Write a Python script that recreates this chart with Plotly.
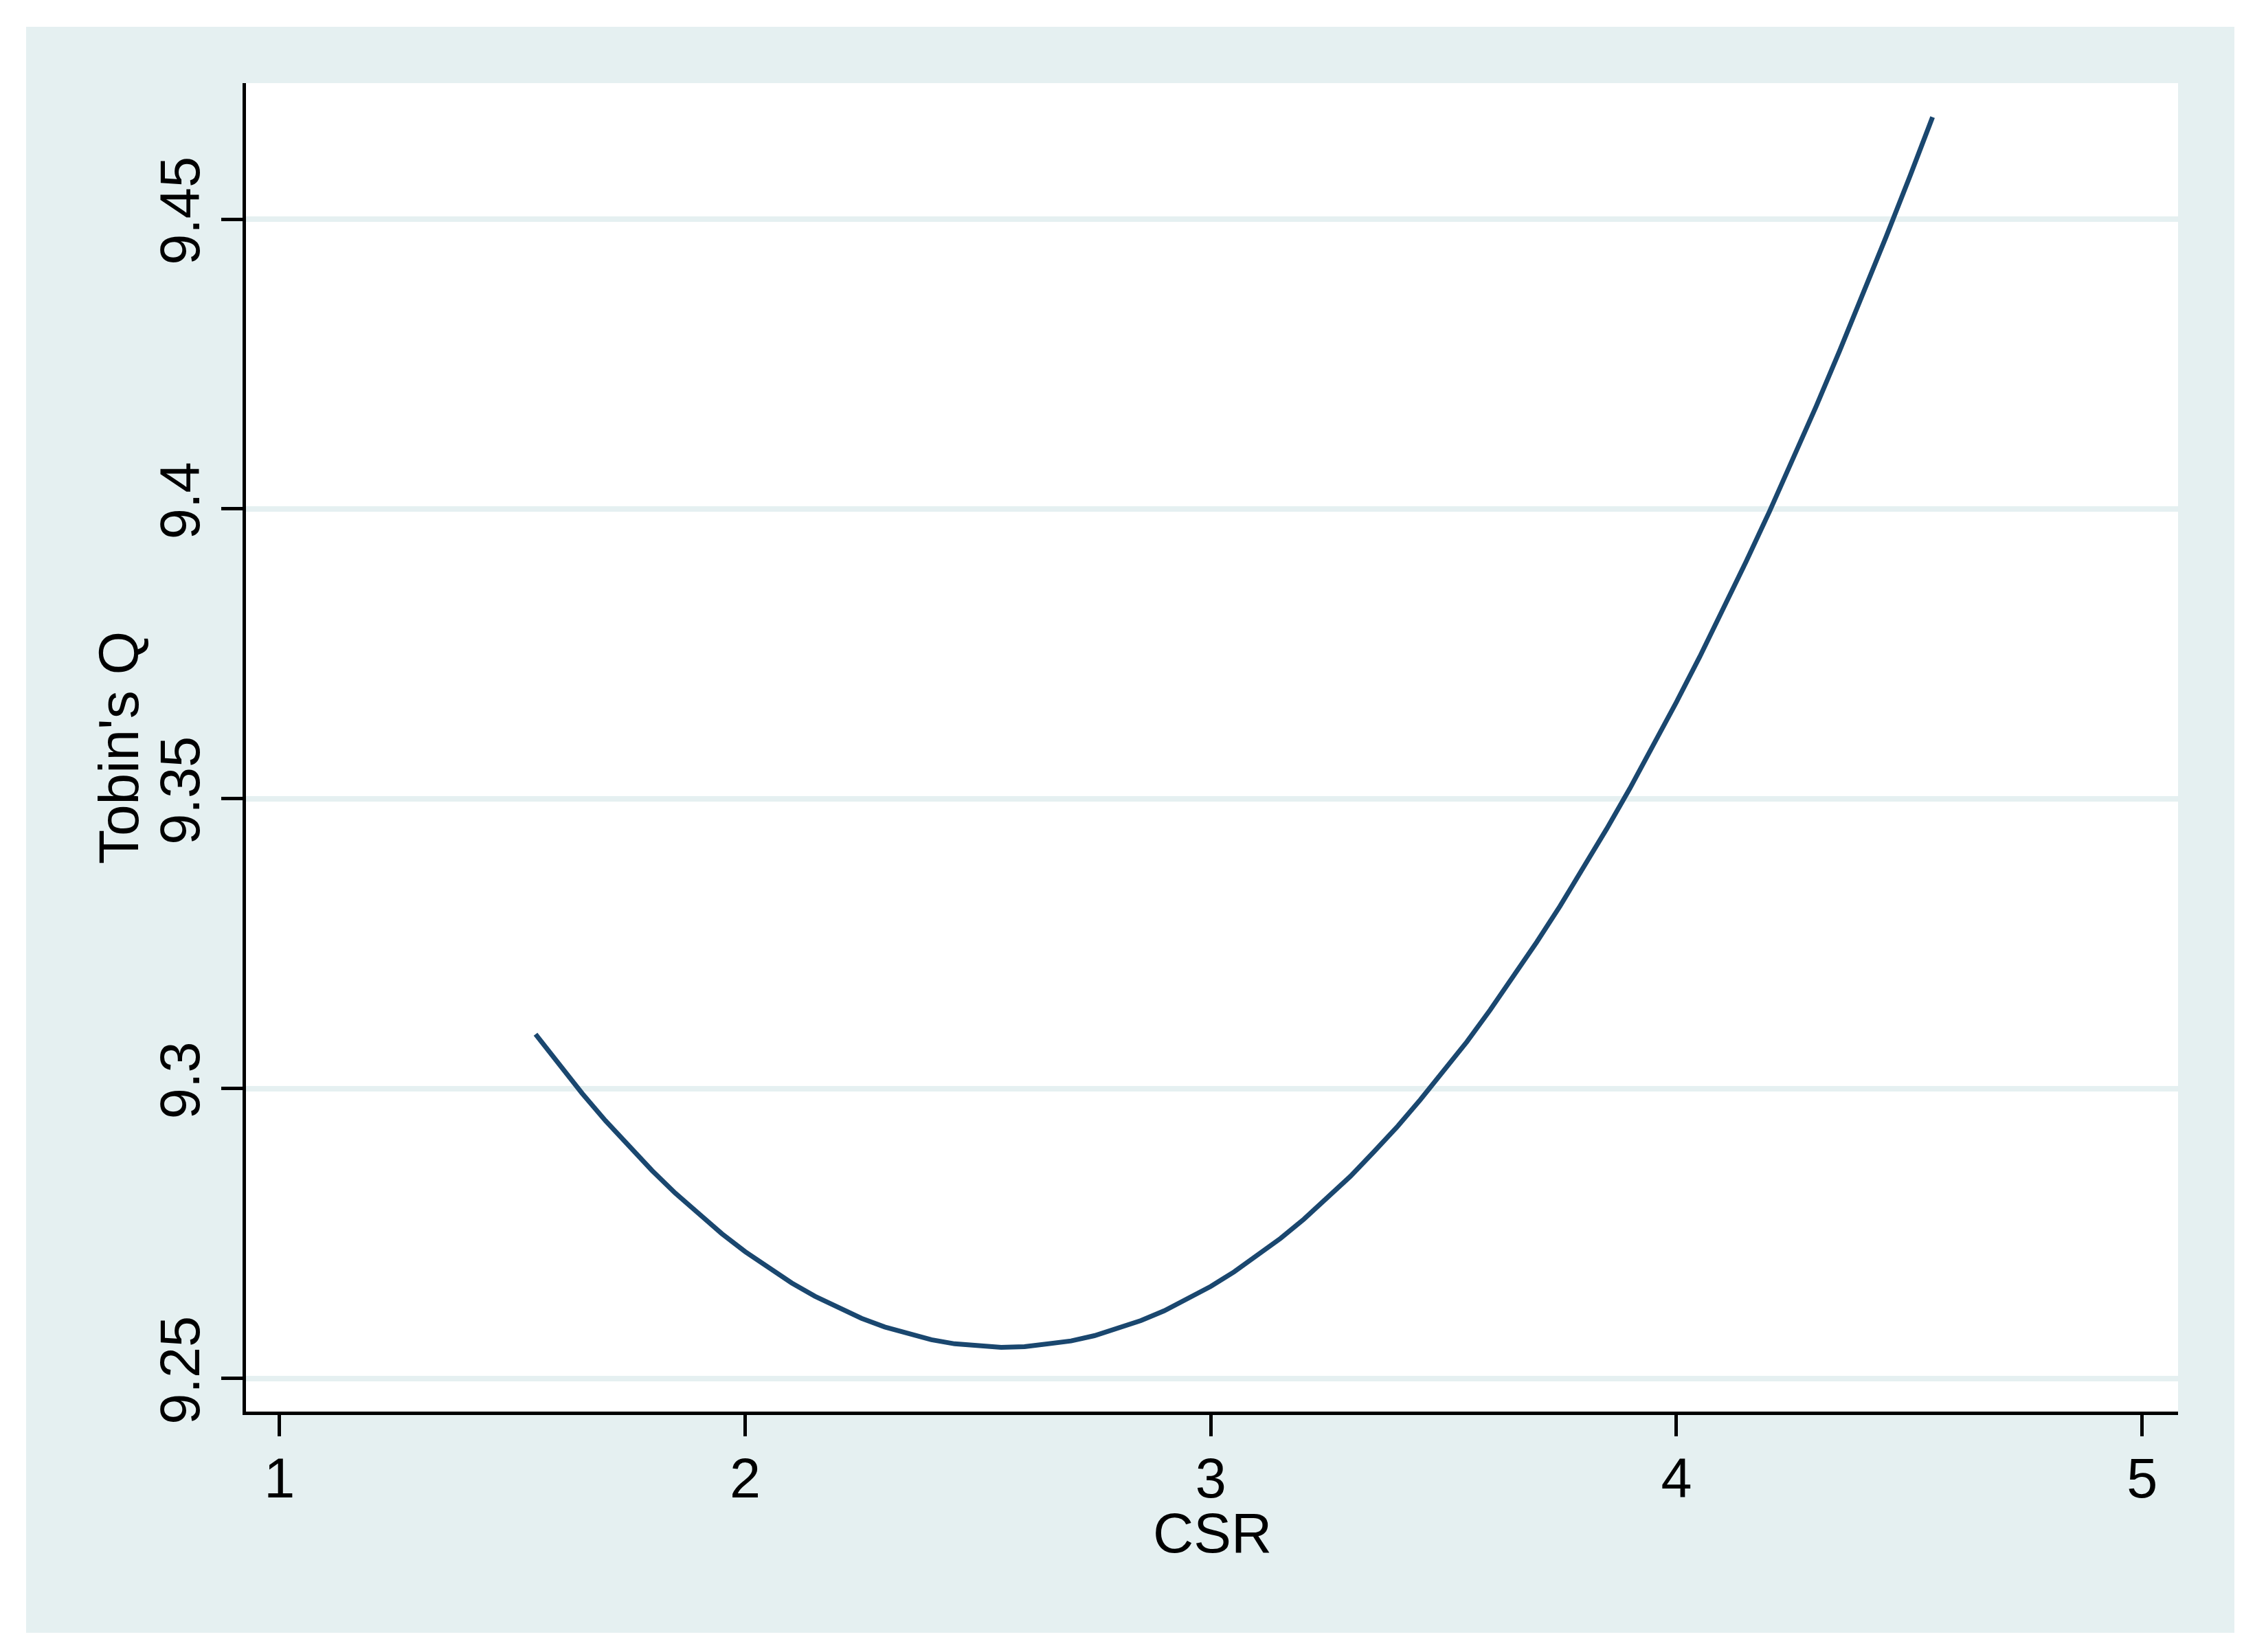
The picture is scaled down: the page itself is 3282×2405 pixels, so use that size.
import plotly.graph_objects as go

# CSR values at which the fitted curve is evaluated
csr = [1.55, 1.60, 1.65, 1.70, 1.75, 1.80, 1.85, 1.90, 1.95, 2.00,
       2.05, 2.10, 2.15, 2.20, 2.25, 2.30, 2.35, 2.40, 2.45, 2.50,
       2.55, 2.60, 2.65, 2.70, 2.75, 2.80, 2.85, 2.90, 2.95, 3.00,
       3.05, 3.10, 3.15, 3.20, 3.25, 3.30, 3.35, 3.40, 3.45, 3.50,
       3.55, 3.60, 3.65, 3.70, 3.75, 3.80, 3.85, 3.90, 3.95, 4.00,
       4.05, 4.10, 4.15, 4.20, 4.25, 4.30, 4.35, 4.40, 4.45, 4.50, 4.55]

# Fitted Tobin's Q
tobins_q = [9.3094, 9.3042, 9.2992, 9.2945, 9.2901, 9.2859, 9.2820, 9.2784, 9.2750, 9.2719,
            9.2691, 9.2665, 9.2642, 9.2622, 9.2604, 9.2589, 9.2577, 9.2567, 9.2560, 9.2556,
            9.2554, 9.2555, 9.2559, 9.2565, 9.2574, 9.2586, 9.2600, 9.2617, 9.2637, 9.2659,
            9.2684, 9.2712, 9.2742, 9.2775, 9.2811, 9.2849, 9.2891, 9.2934, 9.2981, 9.3030,
            9.3081, 9.3136, 9.3193, 9.3253, 9.3315, 9.3380, 9.3448, 9.3518, 9.3591, 9.3667,
            9.3745, 9.3826, 9.3910, 9.3996, 9.4086, 9.4177, 9.4272, 9.4369, 9.4469, 9.4571, 9.4676]

x_ticks = [1, 2, 3, 4, 5]
x_tick_labels = ["1", "2", "3", "4", "5"]
y_ticks = [9.25, 9.30, 9.35, 9.40, 9.45]
y_tick_labels = ["9.25", "9.3", "9.35", "9.4", "9.45"]

x_title = "CSR"
y_title = "Tobin's Q"

BG = "#E5F0F1"
LINE = "#1A476F"
FONT = "Liberation Sans, Arial, Helvetica, sans-serif"

fig = go.Figure()
fig.add_trace(go.Scatter(x=csr, y=tobins_q, mode="lines",
                         line=dict(color=LINE, width=7), showlegend=False,
                         hoverinfo="skip"))

fig.update_layout(
    width=3266, height=2389,
    margin=dict(l=350, r=104, t=113, b=342, pad=0),
    paper_bgcolor="white",
    plot_bgcolor="white",
    showlegend=False,
    font=dict(family=FONT, size=81, color="black"),
    shapes=[
        dict(type="rect", xref="paper", yref="paper",
             x0=-0.11380, x1=1.02916, y0=-0.16649, y1=1.04240,
             fillcolor=BG, line=dict(width=0), layer="below"),
        dict(type="rect", xref="paper", yref="paper",
             x0=0, x1=1, y0=0, y1=1,
             fillcolor="white", line=dict(width=0), layer="below"),
    ],
    annotations=[
        dict(text=x_title, xref="paper", yref="paper", x=0.5, y=-0.09152,
             xanchor="center", yanchor="middle", showarrow=False,
             font=dict(family=FONT, size=82, color="black")),
        dict(text=y_title, xref="paper", yref="paper", x=-0.06615, y=0.5,
             xanchor="center", yanchor="middle", showarrow=False, textangle=-90,
             font=dict(family=FONT, size=82, color="black")),
    ],
)

fig.update_xaxes(
    range=[0.92814, 5.07718], tickmode="array", tickvals=x_ticks, ticktext=x_tick_labels,
    showgrid=False, zeroline=False,
    showline=True, linecolor="black", linewidth=5,
    ticks="outside", ticklen=31, tickwidth=5, tickcolor="black",
    ticklabelstandoff=-8,
    tickfont=dict(family=FONT, size=81, color="black"),
)
fig.update_yaxes(
    range=[9.24431, 9.47346], tickmode="array", tickvals=y_ticks, ticktext=y_tick_labels,
    showgrid=True, gridcolor=BG, gridwidth=8, zeroline=False,
    showline=True, linecolor="black", linewidth=5,
    ticks="outside", ticklen=31, tickwidth=5, tickcolor="black",
    tickangle=-90,
    tickfont=dict(family=FONT, size=81, color="black"),
)

fig.write_html("out.html")
